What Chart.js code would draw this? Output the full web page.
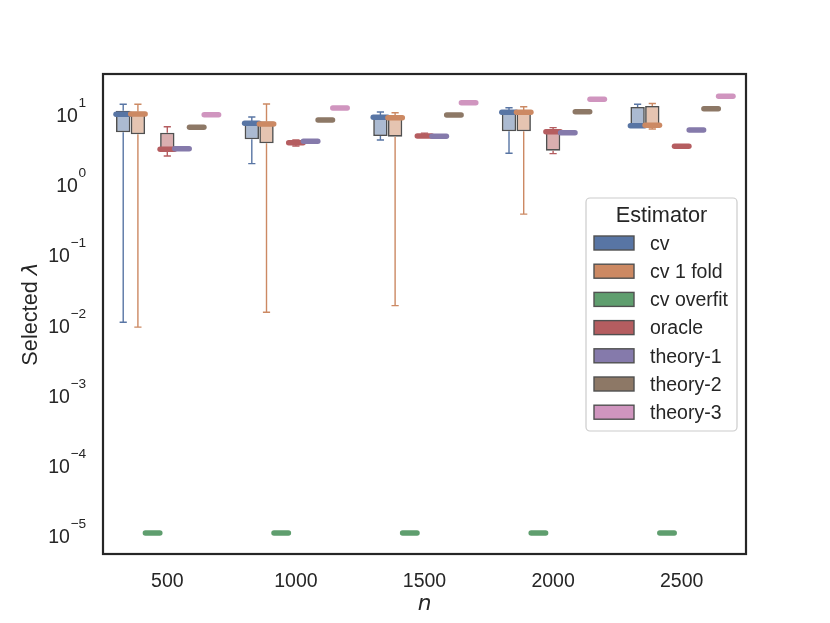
<!DOCTYPE html>
<html>
<head>
<meta charset="utf-8">
<script src="https://cdn.jsdelivr.net/npm/chart.js@4.4.0/dist/chart.umd.min.js"></script>
<style>
  html, body { margin: 0; padding: 0; background: #ffffff; }
  canvas { display: block; }
</style>
</head>
<body>
<canvas id="lambdaChart" width="830" height="623"></canvas>
<script>
const sampleSizes = ["500", "1000", "1500", "2000", "2500"];
const estimators = ["cv", "cv 1 fold", "cv overfit", "oracle", "theory-1", "theory-2", "theory-3"];
const estimatorColors = ["#5875a4", "#cc8963", "#5f9e6e", "#b55d60", "#857aab", "#8d7866", "#d095bf"];
const yTickPowers = [1, 0, -1, -2, -3, -4, -5];

// one entry per n: [lower whisker, q1, median, q3, upper whisker]
const cvStats = [
  [0.0101, 5.14, 9.27, 10.4, 12.9],
  [1.84, 4.08, 6.9, 7.44, 8.49],
  [3.99, 4.55, 8.4, 8.57, 10.0],
  [2.58, 5.3, 9.9, 10.4, 11.5],
  [6.2, 6.2, 6.38, 11.8, 12.9]
];
const cvOneFoldStats = [
  [0.0086, 4.81, 9.36, 10.1, 12.9],
  [0.014, 3.58, 6.75, 7.33, 13.0],
  [0.0174, 4.45, 8.3, 8.51, 9.78],
  [0.35, 5.3, 9.9, 10.4, 11.9],
  [5.73, 5.97, 6.45, 12.2, 13.2]
];
const cvOverfitStats = [
  [1e-5, 1e-5, 1e-5, 1e-5, 1e-5],
  [1e-5, 1e-5, 1e-5, 1e-5, 1e-5],
  [1e-5, 1e-5, 1e-5, 1e-5, 1e-5],
  [1e-5, 1e-5, 1e-5, 1e-5, 1e-5],
  [1e-5, 1e-5, 1e-5, 1e-5, 1e-5]
];
const oracleStats = [
  [2.36, 2.92, 2.94, 5.07, 6.17],
  [3.27, 3.55, 3.65, 3.75, 3.99],
  [4.4, 4.45, 4.55, 4.65, 5.0],
  [2.55, 2.81, 5.24, 5.24, 5.98],
  [3.25, 3.25, 3.25, 3.25, 3.25]
];
const theory1Values = [3.0, 3.82, 4.51, 5.07, 5.54];
const theory2Values = [6.06, 7.69, 9.06, 10.1, 11.1];
const theory3Values = [9.15, 11.4, 13.6, 15.2, 16.7];

// the theory estimators are deterministic: every stat is the same value
const flatStats = (vals) => vals.map(v => [v, v, v, v, v]);
const allStats = [
  cvStats, cvOneFoldStats, cvOverfitStats, oracleStats,
  flatStats(theory1Values), flatStats(theory2Values), flatStats(theory3Values)
];

const textColor = "#262626";
const edgeColor = "#505050";
const sansFont = "'Liberation Sans', Arial, sans-serif";
const mathFont = "'DejaVu Sans', sans-serif";

function withAlpha(hex, a) {
  const n = parseInt(hex.slice(1), 16);
  return "rgba(" + (n >> 16) + "," + ((n >> 8) & 255) + "," + (n & 255) + "," + a + ")";
}

const datasets = estimators.map((name, i) => ({
  label: name,
  data: allStats[i].map(s => [s[1], s[3]]),
  backgroundColor: withAlpha(estimatorColors[i], 0.5),
  borderColor: edgeColor,
  borderWidth: 1.6,
  borderSkipped: false,
  categoryPercentage: 0.8,
  barPercentage: 0.98
}));

// whiskers, caps and medians on top of the floating-bar boxes
const boxExtras = {
  id: "boxExtras",
  afterDatasetsDraw(chart) {
    const ctx = chart.ctx;
    const yScale = chart.scales.y;
    ctx.save();
    allStats.forEach((stats, i) => {
      const color = estimatorColors[i];
      chart.getDatasetMeta(i).data.forEach((bar, j) => {
        const [lo, q1, med, q3, hi] = stats[j];
        const { x, width } = bar.getProps(["x", "width"], true);
        const yLo = yScale.getPixelForValue(lo);
        const yQ1 = yScale.getPixelForValue(q1);
        const yMed = yScale.getPixelForValue(med);
        const yQ3 = yScale.getPixelForValue(q3);
        const yHi = yScale.getPixelForValue(hi);
        ctx.strokeStyle = color;
        ctx.lineCap = "butt";
        ctx.lineWidth = 1.4;
        ctx.beginPath();
        ctx.moveTo(x, yQ1); ctx.lineTo(x, yLo);
        ctx.moveTo(x, yQ3); ctx.lineTo(x, yHi);
        ctx.moveTo(x - width / 4, yLo); ctx.lineTo(x + width / 4, yLo);
        ctx.moveTo(x - width / 4, yHi); ctx.lineTo(x + width / 4, yHi);
        ctx.stroke();
        ctx.lineWidth = 5.5;
        ctx.lineCap = "round";
        ctx.beginPath();
        ctx.moveTo(x - width / 2, yMed); ctx.lineTo(x + width / 2, yMed);
        ctx.stroke();
      });
    });
    ctx.restore();
  }
};

// frame, tick labels, axis titles and legend
const decorations = {
  id: "decorations",
  afterDraw(chart) {
    const ctx = chart.ctx;
    const area = chart.chartArea;
    const xScale = chart.scales.x;
    const yScale = chart.scales.y;
    ctx.save();

    ctx.strokeStyle = textColor;
    ctx.lineWidth = 2.2;
    ctx.strokeRect(area.left, area.top, area.right - area.left, area.bottom - area.top);

    ctx.fillStyle = textColor;
    ctx.textBaseline = "alphabetic";
    ctx.font = "19.5px " + sansFont;
    ctx.textAlign = "center";
    sampleSizes.forEach((lab, i) => {
      ctx.fillText(lab, xScale.getPixelForTick(i), 587);
    });

    ctx.textAlign = "right";
    yTickPowers.forEach(p => {
      const ty = yScale.getPixelForValue(Math.pow(10, p));
      const sup = p < 0 ? "\u2212" + (-p) : String(p);
      ctx.font = "13.7px " + sansFont;
      const supW = ctx.measureText(sup).width;
      ctx.fillText(sup, 86, ty - 5);
      ctx.font = "19.5px " + sansFont;
      ctx.fillText("10", 86 - supW - 0.5, ty + 10);
    });

    // y title: "Selected λ"
    ctx.save();
    ctx.translate(36.5, (area.top + area.bottom) / 2);
    ctx.rotate(-Math.PI / 2);
    ctx.textAlign = "left";
    ctx.font = "21.7px " + sansFont;
    const w1 = ctx.measureText("Selected ").width;
    ctx.font = "italic 21.7px " + mathFont;
    const w2 = ctx.measureText("\u03bb").width;
    let sx = -(w1 + w2) / 2;
    ctx.font = "21.7px " + sansFont;
    ctx.fillText("Selected ", sx, 0);
    ctx.font = "italic 21.7px " + mathFont;
    ctx.fillText("\u03bb", sx + w1, 0);
    ctx.restore();

    // x title: n
    ctx.textAlign = "center";
    ctx.font = "italic 21.7px " + mathFont;
    ctx.fillText("n", (area.left + area.right) / 2, 610);

    // legend
    const lx = 586, ly = 198, lw = 151, lh = 233;
    ctx.beginPath();
    ctx.roundRect(lx, ly, lw, lh, 4);
    ctx.fillStyle = "rgba(255,255,255,0.8)";
    ctx.fill();
    ctx.strokeStyle = "#cccccc";
    ctx.lineWidth = 1.2;
    ctx.stroke();

    ctx.fillStyle = textColor;
    ctx.font = "21.7px " + sansFont;
    ctx.textAlign = "center";
    ctx.fillText("Estimator", lx + lw / 2, 222);

    ctx.textAlign = "left";
    ctx.font = "19.5px " + sansFont;
    estimators.forEach((name, i) => {
      const cy = 243 + i * 28.2;
      ctx.fillStyle = estimatorColors[i];
      ctx.fillRect(594, cy - 7, 40, 14);
      ctx.strokeStyle = edgeColor;
      ctx.lineWidth = 1.4;
      ctx.strokeRect(594, cy - 7, 40, 14);
      ctx.fillStyle = textColor;
      ctx.fillText(name, 650, cy + 6.8);
    });

    ctx.restore();
  }
};

new Chart(document.getElementById("lambdaChart"), {
  type: "bar",
  data: { labels: sampleSizes, datasets: datasets },
  options: {
    responsive: false,
    animation: false,
    layout: { padding: { left: 0, right: 84, top: 74, bottom: 0 } },
    plugins: { legend: { display: false }, tooltip: { enabled: false } },
    scales: {
      x: {
        type: "category",
        grid: { display: false },
        border: { display: false },
        ticks: { display: false },
        afterFit(scale) { scale.height = 69; }
      },
      y: {
        type: "logarithmic",
        min: 5.02e-6,
        max: 34.8,
        grid: { display: false },
        border: { display: false },
        ticks: { display: false },
        afterFit(scale) { scale.width = 103; }
      }
    }
  },
  plugins: [boxExtras, decorations]
});
</script>
</body>
</html>
